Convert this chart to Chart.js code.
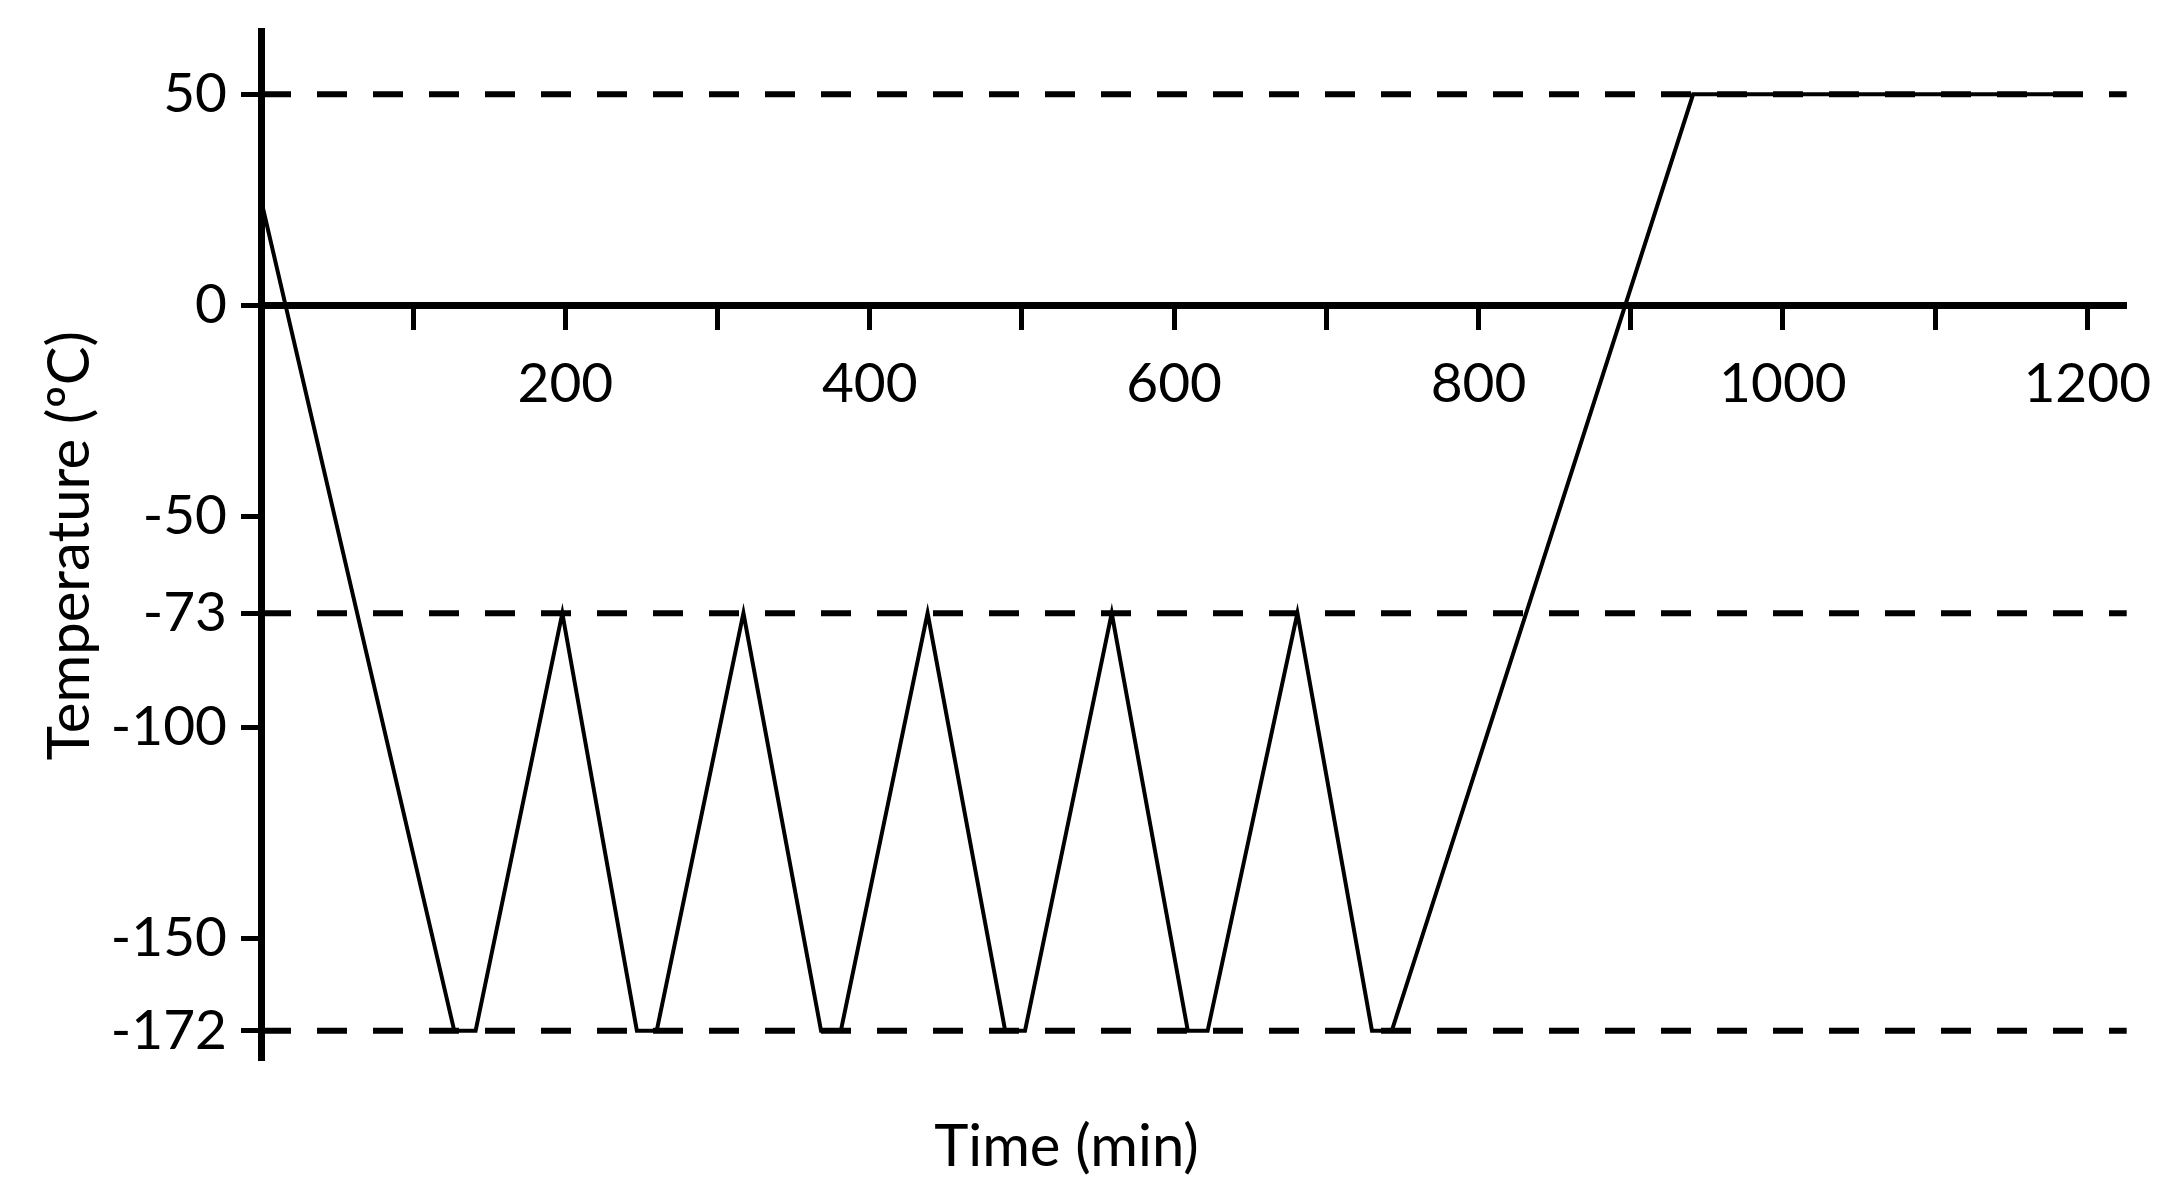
<!DOCTYPE html>
<html>
<head>
<meta charset="utf-8">
<script src="https://cdn.jsdelivr.net/npm/chart.js@4.4.1/dist/chart.umd.min.js"></script>
<style>
  html, body { margin: 0; padding: 0; background: #fff; }
  #wrap { width: 2177px; height: 1200px; position: relative; }
</style>
</head>
<body>
<div id="wrap"><canvas id="chart"></canvas></div>
<script>
// temperature profile (time in min, temperature in ºC)
const timeMin = [0, 127, 141, 198, 247, 260, 317, 368, 381, 438, 489, 502, 559, 609, 622, 681, 730, 743, 941, 1180];
const tempC = [25, -172, -172, -73, -172, -172, -73, -172, -172, -73, -172, -172, -73, -172, -172, -73, -172, -172, 50, 50];

// dashed reference levels
const refLevels = [50, -73, -172];

const yTickValues = [50, 0, -50, -73, -100, -150, -172];
const xTickValues = [100, 200, 300, 400, 500, 600, 700, 800, 900, 1000, 1100, 1200];
const xLabelValues = [200, 400, 600, 800, 1000, 1200];

const xMin = 0, xMax = 1226;
const yMin = -179, yMax = 65;

Chart.defaults.font.family = "Lato, 'Open Sans', sans-serif";
Chart.defaults.color = "#000";

const profile = timeMin.map((t, i) => ({ x: t, y: tempC[i] }));

const refSets = refLevels.map(v => ({
  data: [{ x: xMin, y: v }, { x: xMax, y: v }],
  borderColor: "#000",
  borderWidth: 6,
  borderDash: [30, 26],
  pointRadius: 0,
  order: 2
}));

new Chart(document.getElementById("chart"), {
  type: "line",
  data: {
    datasets: [{
      data: profile,
      borderColor: "#000",
      borderWidth: 4,
      pointRadius: 0,
      tension: 0,
      order: 1
    }, ...refSets]
  },
  options: {
    responsive: true,
    maintainAspectRatio: false,
    animation: false,
    devicePixelRatio: 1,
    layout: { padding: { left: 0, top: 31, right: 44, bottom: 18 } },
    plugins: {
      legend: { display: false },
      tooltip: { enabled: false },
      title: {
        display: true,
        position: "bottom",
        text: "Time (min)",
        color: "#000",
        font: { size: 58, weight: "normal" },
        padding: { top: 52, bottom: 0 }
      }
    },
    scales: {
      x: {
        type: "linear",
        min: xMin,
        max: xMax,
        position: { y: 0 },
        border: { display: true, color: "#000", width: 7 },
        grid: { drawOnChartArea: false, drawTicks: true, tickLength: 21, tickWidth: 5, tickColor: "#000" },
        afterBuildTicks: s => { s.ticks = xTickValues.map(v => ({ value: v })); },
        ticks: {
          autoSkip: false,
          maxRotation: 0,
          padding: 25,
          font: { size: 55 },
          callback: v => xLabelValues.includes(v) ? String(v) : ""
        }
      },
      y: {
        type: "linear",
        min: yMin,
        max: yMax,
        border: { display: true, color: "#000", width: 7 },
        grid: { drawOnChartArea: false, drawTicks: true, tickLength: 20, tickWidth: 5, tickColor: "#000" },
        afterBuildTicks: s => { s.ticks = yTickValues.map(v => ({ value: v })); },
        afterFit: s => {
          s.width = 261;
          // extreme ticks sit inside the range, so no label overflow room is needed
          s.paddingTop = 0;
          s.paddingBottom = 0;
        },
        ticks: {
          autoSkip: false,
          padding: 14,
          font: { size: 55 },
          callback: v => String(v)
        },
        title: {
          display: true,
          text: "Temperature (ºC)",
          color: "#000",
          font: { size: 58 },
          padding: { top: 35, bottom: 0 }
        }
      }
    }
  }
});
</script>
</body>
</html>
